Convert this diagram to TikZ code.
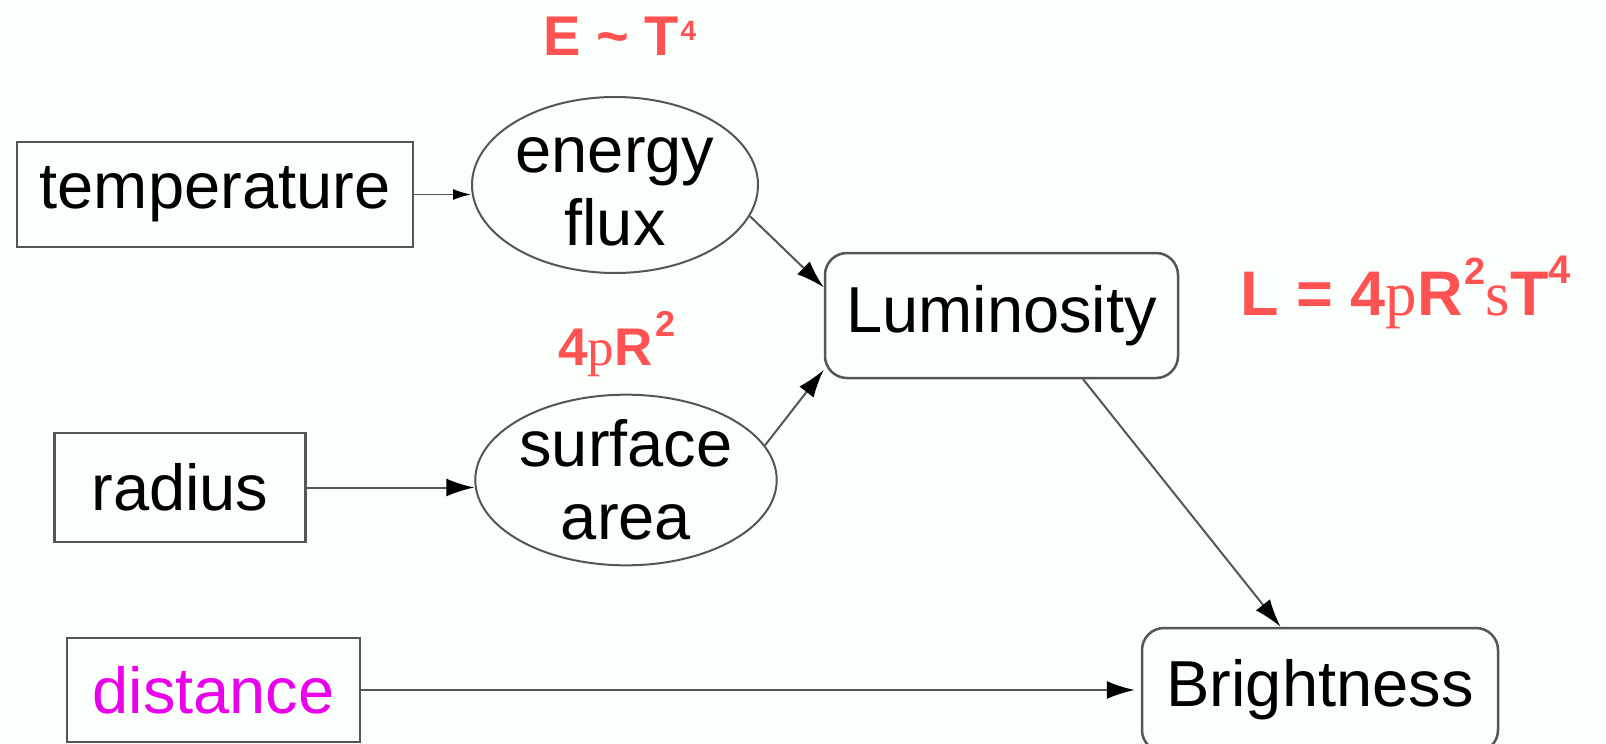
\documentclass[tikz,border=0pt]{standalone}
\usepackage{xcolor}
\usepackage{fontspec}
\setmainfont{Liberation Sans}
\newfontfamily\serifpart{Liberation Serif}
\usetikzlibrary{shapes.geometric,arrows.meta}

\definecolor{bgcol}{RGB}{251,255,251}
\definecolor{formred}{RGB}{255,82,82}
\definecolor{distmag}{RGB}{235,0,235}
\definecolor{linegray}{RGB}{85,85,85}

% raised small number: \supr{raise}{size}{text}
\newcommand{\supr}[3]{\raisebox{#1pt}{\fontsize{#2}{#2}\selectfont #3}}

\tikzset{
  box/.style={draw=linegray, line width=2.5pt, rectangle, inner sep=0pt,
    font=\fontsize{65}{72}\selectfont},
  rbox/.style={box, rounded corners=22pt},
  oval/.style={draw=linegray, line width=2pt, ellipse, inner sep=0pt,
    align=center, font=\fontsize{65}{73}\selectfont},
  arr/.style={draw=linegray, line width=2pt,
    -{Latex[length=28pt,width=18pt,color=black]}},
  formula/.style={text=formred, anchor=base west, inner sep=0pt},
}

\begin{document}
\begin{tikzpicture}[x=1pt,y=-1pt] % 1 unit = 1 pixel of the picture

    % 1. Background and frame of the picture
    \fill[bgcol] (0,0) rectangle (1606,744);
    \useasboundingbox (0,0) rectangle (1606,744);
    \clip (0,0) rectangle (1606,744);

    % 2. Input quantities (plain boxes)
    \node[box, minimum width=396, minimum height=105] (temp) at (215,194.5) {temperature};
    \node[box, minimum width=251, minimum height=109] (rad) at (180,487.5) {radius};
    \node[box, minimum width=293, minimum height=104, text=distmag] (dist) at (213.5,690) {distance};

    % 3. Intermediate quantities (ellipses)
    \node[oval, minimum width=286, minimum height=176] (ef) at (615,185)
        {\raisebox{-7pt}[\height][\depth]{energy}\\\raisebox{-7pt}[\height][\depth]{flux}};
    \node[oval, minimum width=292, minimum height=164] (sa) at (626,480) {surface\\area};

    % 4. Results (rounded boxes)
    \node[rbox, minimum width=353, minimum height=125] (lum) at (1001.5,315.5) {Luminosity};
    \node[rbox, minimum width=356, minimum height=124] (bright) at (1320,690) {Brightness};

    % 5. Arrows between the quantities
    \draw[draw=linegray, line width=1.5pt, -{Latex[length=18pt,width=11pt,color=black]}]
        (temp.east) -- (temp.east -| ef.west);
    \draw[arr] (rad.east) -- (rad.east -| sa.west);
    \draw[arr] (ef.-13) -- (lum.171);
    \draw[arr] (sa.14) -- (lum.197);
    \draw[arr] (lum.-38) -- (bright.122);
    \draw[arr, shorten >=6pt] (dist.east) -- (bright.west);

    % 6. Red formulas
    \node[formula, font=\bfseries\fontsize{56}{60}\selectfont] (eq1) at (543,55)
        {E \textasciitilde{} T\kern2pt\supr{15}{28}{4}};
    \node[formula, font=\bfseries\fontsize{53}{58}\selectfont] (eq2) at (558,365)
        {4{\serifpart\mdseries p}R\kern3pt\supr{29}{36}{2}};
    \node[formula, font=\bfseries\fontsize{63}{68}\selectfont] (eq3) at (1240,315)
        {L = 4{\serifpart\mdseries p}R\kern2pt\supr{31}{38}{2}{\serifpart\mdseries s}T\supr{32}{40}{4}};

\end{tikzpicture}
\end{document}
